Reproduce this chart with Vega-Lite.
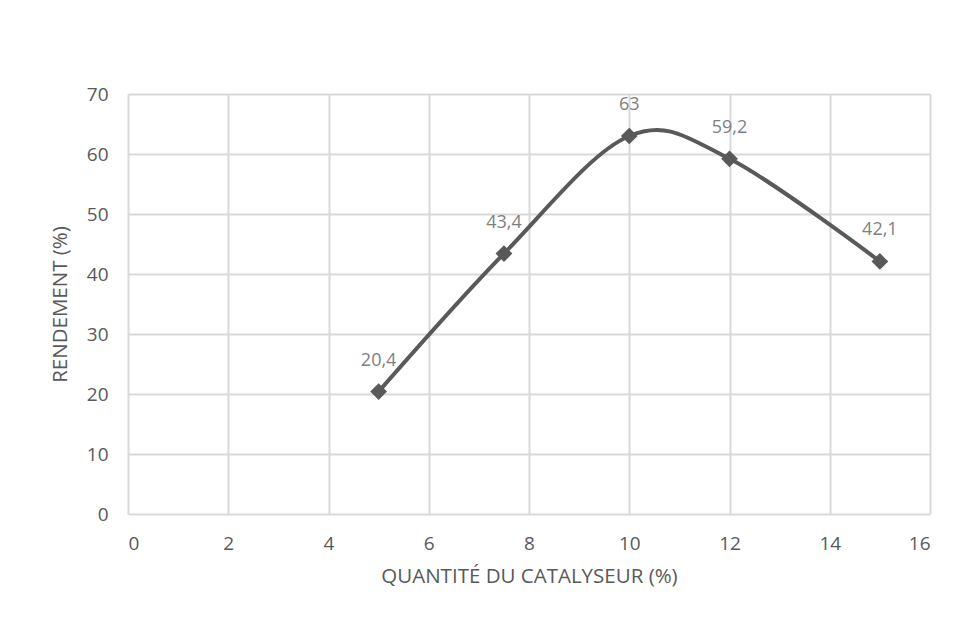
{
  "$schema": "https://vega.github.io/schema/vega-lite/v6.json",
  "autosize": {"type": "none"},
  "width": 802,
  "height": 420,
  "padding": {"left": 128, "top": 94, "right": 30, "bottom": 119},
  "background": "white",
  "config": {
    "locale": {"number": {"decimal": ",", "thousands": " ", "grouping": [3], "currency": ["", " €"]}},
    "view": {"stroke": null},
    "font": "Open Sans",
    "axis": {
      "labelFont": "Open Sans",
      "titleFont": "Open Sans",
      "labelColor": "#595959",
      "titleColor": "#595959",
      "labelFontSize": 19,
      "titleFontSize": 20.5,
      "titleFontWeight": "normal",
      "gridColor": "#d9d9d9",
      "gridWidth": 2,
      "domain": false,
      "ticks": false
    }
  },
  "data": {
    "values": [
      {"quantite": 5, "rendement": 20.4},
      {"quantite": 7.5, "rendement": 43.4},
      {"quantite": 10, "rendement": 63},
      {"quantite": 12, "rendement": 59.2},
      {"quantite": 15, "rendement": 42.1}
    ]
  },
  "encoding": {
    "x": {
      "field": "quantite",
      "type": "quantitative",
      "scale": {"domain": [0, 16], "nice": false},
      "axis": {
        "title": "QUANTITÉ DU CATALYSEUR (%)",
        "values": [0, 2, 4, 6, 8, 10, 12, 14, 16],
        "format": "d",
        "labelPadding": 20,
        "titlePadding": 13
      }
    },
    "y": {
      "field": "rendement",
      "type": "quantitative",
      "scale": {"domain": [0, 70], "nice": false},
      "axis": {
        "title": "RENDEMENT (%)",
        "values": [0, 10, 20, 30, 40, 50, 60, 70],
        "format": "d",
        "labelPadding": 20,
        "titlePadding": 16
      }
    }
  },
  "layer": [
    {
      "mark": {"type": "line", "interpolate": "cardinal", "tension": 0, "color": "#595959", "strokeWidth": 4}
    },
    {
      "mark": {"type": "point", "shape": "diamond", "filled": true, "color": "#595959", "opacity": 1, "size": 280}
    },
    {
      "mark": {"type": "text", "dy": -31, "baseline": "middle", "align": "center", "color": "#7f7f7f", "fontSize": 18, "font": "Open Sans"},
      "encoding": {"text": {"field": "rendement", "type": "quantitative", "format": ""}}
    }
  ]
}
